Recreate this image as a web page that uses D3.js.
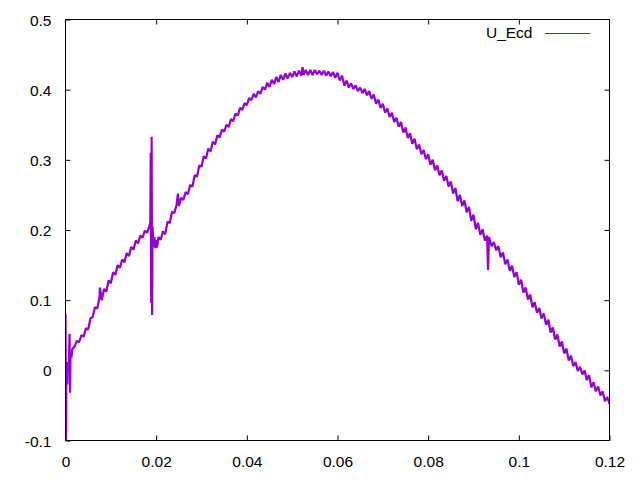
<!DOCTYPE html>
<html>
<head>
<meta charset="utf-8">
<script src="https://cdn.jsdelivr.net/npm/d3@7"></script>
<style>
  html, body { margin: 0; padding: 0; background: #fff; }
  svg { display: block; }
  text { font-family: "Liberation Sans", Arial, sans-serif; font-size: 15.5px; fill: #000; }
</style>
</head>
<body>
<svg id="chart" width="640" height="480"></svg>
<script>
// ---- data ----
const seriesName = "U_Ecd";
const xTicks = [0, 0.02, 0.04, 0.06, 0.08, 0.1, 0.12];
const xTickLabels = ["0", "0.02", "0.04", "0.06", "0.08", "0.1", "0.12"];
const yTicks = [-0.1, 0, 0.1, 0.2, 0.3, 0.4, 0.5];
const yTickLabels = ["-0.1", "0", "0.1", "0.2", "0.3", "0.4", "0.5"];

const tValues = [
  0.0000, 0.0001, 0.0002, 0.0003, 0.0004, 0.0005, 0.0007, 0.0009, 0.0010, 0.0011,
  0.0013, 0.0015, 0.0020, 0.0025, 0.0030, 0.0035, 0.0040, 0.0045, 0.0050, 0.0055,
  0.0060, 0.0065, 0.0070, 0.0075, 0.0076, 0.0080, 0.0085, 0.0090, 0.0095, 0.0100,
  0.0105, 0.0110, 0.0115, 0.0120, 0.0125, 0.0130, 0.0135, 0.0140, 0.0145, 0.0150,
  0.0155, 0.0160, 0.0165, 0.0170, 0.0175, 0.0180, 0.0185, 0.0187, 0.0188, 0.0189,
  0.0190, 0.0191, 0.0192, 0.0194, 0.0196, 0.0198, 0.0200, 0.0202, 0.0205, 0.0210,
  0.0215, 0.0220, 0.0225, 0.0230, 0.0235, 0.0240, 0.0245, 0.0248, 0.0250, 0.0255,
  0.0260, 0.0265, 0.0270, 0.0275, 0.0280, 0.0285, 0.0290, 0.0295, 0.0300, 0.0305,
  0.0310, 0.0315, 0.0320, 0.0325, 0.0330, 0.0335, 0.0340, 0.0345, 0.0350, 0.0355,
  0.0360, 0.0365, 0.0370, 0.0375, 0.0380, 0.0385, 0.0390, 0.0395, 0.0400, 0.0405,
  0.0410, 0.0415, 0.0420, 0.0425, 0.0430, 0.0435, 0.0440, 0.0445, 0.0450, 0.0455,
  0.0460, 0.0465, 0.0470, 0.0475, 0.0480, 0.0485, 0.0490, 0.0495, 0.0500, 0.0505,
  0.0510, 0.0515, 0.0520, 0.0523, 0.0525, 0.0530, 0.0535, 0.0540, 0.0545, 0.0550,
  0.0555, 0.0560, 0.0565, 0.0570, 0.0575, 0.0580, 0.0585, 0.0590, 0.0595, 0.0600,
  0.0605, 0.0610, 0.0615, 0.0620, 0.0625, 0.0630, 0.0635, 0.0640, 0.0645, 0.0650,
  0.0655, 0.0660, 0.0665, 0.0670, 0.0675, 0.0680, 0.0685, 0.0690, 0.0695, 0.0700,
  0.0705, 0.0710, 0.0715, 0.0720, 0.0725, 0.0730, 0.0735, 0.0740, 0.0745, 0.0750,
  0.0755, 0.0760, 0.0765, 0.0770, 0.0775, 0.0780, 0.0785, 0.0790, 0.0795, 0.0800,
  0.0805, 0.0810, 0.0815, 0.0820, 0.0825, 0.0830, 0.0835, 0.0840, 0.0845, 0.0850,
  0.0855, 0.0860, 0.0865, 0.0870, 0.0875, 0.0880, 0.0885, 0.0890, 0.0895, 0.0900,
  0.0905, 0.0910, 0.0915, 0.0920, 0.0925, 0.0930, 0.0932, 0.0934, 0.0940, 0.0945,
  0.0950, 0.0955, 0.0960, 0.0965, 0.0970, 0.0975, 0.0980, 0.0985, 0.0990, 0.0995,
  0.1000, 0.1005, 0.1010, 0.1015, 0.1020, 0.1025, 0.1030, 0.1035, 0.1040, 0.1045,
  0.1050, 0.1055, 0.1060, 0.1065, 0.1070, 0.1075, 0.1080, 0.1085, 0.1090, 0.1095,
  0.1100, 0.1105, 0.1110, 0.1115, 0.1120, 0.1125, 0.1130, 0.1135, 0.1140, 0.1145,
  0.1150, 0.1155, 0.1160, 0.1165, 0.1170, 0.1175, 0.1180, 0.1185, 0.1190, 0.1195,
  0.1200
];

const uEcd = [
  0.080, -0.100, 0.000, 0.012, -0.020, 0.010, 0.002, 0.052, -0.032, 0.022,
  0.018, 0.030, 0.034, 0.042, 0.040, 0.050, 0.048, 0.060, 0.058, 0.074,
  0.076, 0.090, 0.088, 0.104, 0.118, 0.100, 0.116, 0.112, 0.128, 0.124,
  0.140, 0.136, 0.150, 0.146, 0.158, 0.154, 0.167, 0.163, 0.176, 0.172,
  0.185, 0.181, 0.192, 0.189, 0.199, 0.196, 0.206, 0.210, 0.310, 0.096,
  0.333, 0.079, 0.205, 0.176, 0.190, 0.174, 0.186, 0.175, 0.190, 0.186,
  0.198, 0.194, 0.212, 0.210, 0.226, 0.224, 0.236, 0.252, 0.234, 0.246,
  0.243, 0.254, 0.251, 0.264, 0.262, 0.278, 0.276, 0.292, 0.290, 0.305,
  0.302, 0.316, 0.312, 0.326, 0.322, 0.335, 0.332, 0.343, 0.340, 0.350,
  0.347, 0.358, 0.355, 0.366, 0.363, 0.374, 0.371, 0.381, 0.378, 0.388,
  0.385, 0.394, 0.389, 0.398, 0.394, 0.404, 0.400, 0.410, 0.404, 0.414,
  0.408, 0.418, 0.411, 0.421, 0.414, 0.423, 0.416, 0.424, 0.418, 0.426,
  0.419, 0.427, 0.420, 0.432, 0.421, 0.428, 0.421, 0.428, 0.421, 0.428,
  0.422, 0.427, 0.421, 0.427, 0.420, 0.426, 0.419, 0.425, 0.417, 0.424,
  0.413, 0.420, 0.406, 0.413, 0.403, 0.409, 0.401, 0.406, 0.398, 0.403,
  0.395, 0.401, 0.392, 0.398, 0.387, 0.393, 0.380, 0.386, 0.374, 0.380,
  0.367, 0.373, 0.361, 0.367, 0.354, 0.360, 0.347, 0.354, 0.339, 0.346,
  0.331, 0.338, 0.323, 0.330, 0.315, 0.322, 0.308, 0.314, 0.301, 0.308,
  0.293, 0.300, 0.285, 0.292, 0.278, 0.285, 0.270, 0.277, 0.262, 0.269,
  0.252, 0.260, 0.241, 0.250, 0.234, 0.242, 0.225, 0.233, 0.213, 0.222,
  0.201, 0.210, 0.193, 0.201, 0.185, 0.192, 0.143, 0.190, 0.177, 0.183,
  0.171, 0.177, 0.161, 0.168, 0.151, 0.158, 0.142, 0.149, 0.133, 0.140,
  0.122, 0.129, 0.111, 0.118, 0.101, 0.108, 0.090, 0.097, 0.082, 0.089,
  0.074, 0.081, 0.065, 0.072, 0.054, 0.061, 0.044, 0.051, 0.034, 0.041,
  0.024, 0.031, 0.014, 0.021, 0.006, 0.012, -0.001, 0.005, -0.006, 0.000,
  -0.014, -0.007, -0.024, -0.017, -0.030, -0.023, -0.036, -0.030, -0.044, -0.038,
  -0.048
];

// ---- drawing ----
const svg = d3.select("#chart");
const W = 640, H = 480;
const margin = { left: 65.5, right: W - 609.5, top: 19.5, bottom: H - 440.5 };
const x0 = margin.left, x1 = W - margin.right, y0 = H - margin.bottom, y1 = margin.top;

svg.append("rect").attr("width", W).attr("height", H).attr("fill", "#fff");

const x = d3.scaleLinear().domain([0, 0.12]).range([x0, x1]);
const y = d3.scaleLinear().domain([-0.1, 0.5]).range([y0, y1]);

const tick = 5;
const axisStyle = g => {
  g.select(".domain").remove();
  g.selectAll(".tick line").attr("stroke", "#000").attr("stroke-width", 1);
  g.selectAll(".tick text").attr("font-family", null).attr("font-size", null);
};

// bottom axis (ticks inward)
svg.append("g").attr("transform", `translate(0,${y0})`)
  .call(d3.axisBottom(x).tickValues(xTicks).tickSizeInner(-tick).tickSizeOuter(0)
        .tickFormat((d, i) => xTickLabels[i]).tickPadding(0))
  .call(axisStyle)
  .call(g => g.selectAll(".tick text").attr("y", 26).attr("dy", null));

// top mirror ticks
svg.append("g").attr("transform", `translate(0,${y1})`)
  .call(d3.axisTop(x).tickValues(xTicks.slice(1, -1)).tickSizeInner(-tick).tickSizeOuter(0).tickFormat(""))
  .call(axisStyle);

// left axis
svg.append("g").attr("transform", `translate(${x0},0)`)
  .call(d3.axisLeft(y).tickValues(yTicks).tickSizeInner(-tick).tickSizeOuter(0)
        .tickFormat((d, i) => yTickLabels[i]).tickPadding(0))
  .call(axisStyle)
  .call(g => g.selectAll(".tick text").attr("x", -14).attr("dy", null).attr("y", 5.5));

// right mirror ticks
svg.append("g").attr("transform", `translate(${x1},0)`)
  .call(d3.axisRight(y).tickValues(yTicks.slice(1, -1)).tickSizeInner(-tick).tickSizeOuter(0).tickFormat(""))
  .call(axisStyle);

// clip
svg.append("clipPath").attr("id", "plotclip")
  .append("rect").attr("x", x0).attr("y", y1).attr("width", x1 - x0).attr("height", y0 - y1);

const data = tValues.map((t, i) => [t, uEcd[i]]);
const line = d3.line().x(d => x(d[0])).y(d => y(d[1]));

svg.append("path")
  .datum(data)
  .attr("clip-path", "url(#plotclip)")
  .attr("d", line)
  .attr("fill", "none")
  .attr("stroke", "#9400d3")
  .attr("stroke-width", 2.2)
  .attr("stroke-linejoin", "bevel");

// frame
svg.append("rect")
  .attr("x", x0).attr("y", y1).attr("width", x1 - x0).attr("height", y0 - y1)
  .attr("fill", "none").attr("stroke", "#000").attr("stroke-width", 1);

// legend
const legend = svg.append("g");
legend.append("text").attr("x", 532.5).attr("y", 38).attr("text-anchor", "end").text(seriesName);
legend.append("line").attr("x1", 545).attr("x2", 590).attr("y1", 33.5).attr("y2", 33.5)
  .attr("stroke", "#9400d3").attr("stroke-width", 1);
</script>
</body>
</html>
